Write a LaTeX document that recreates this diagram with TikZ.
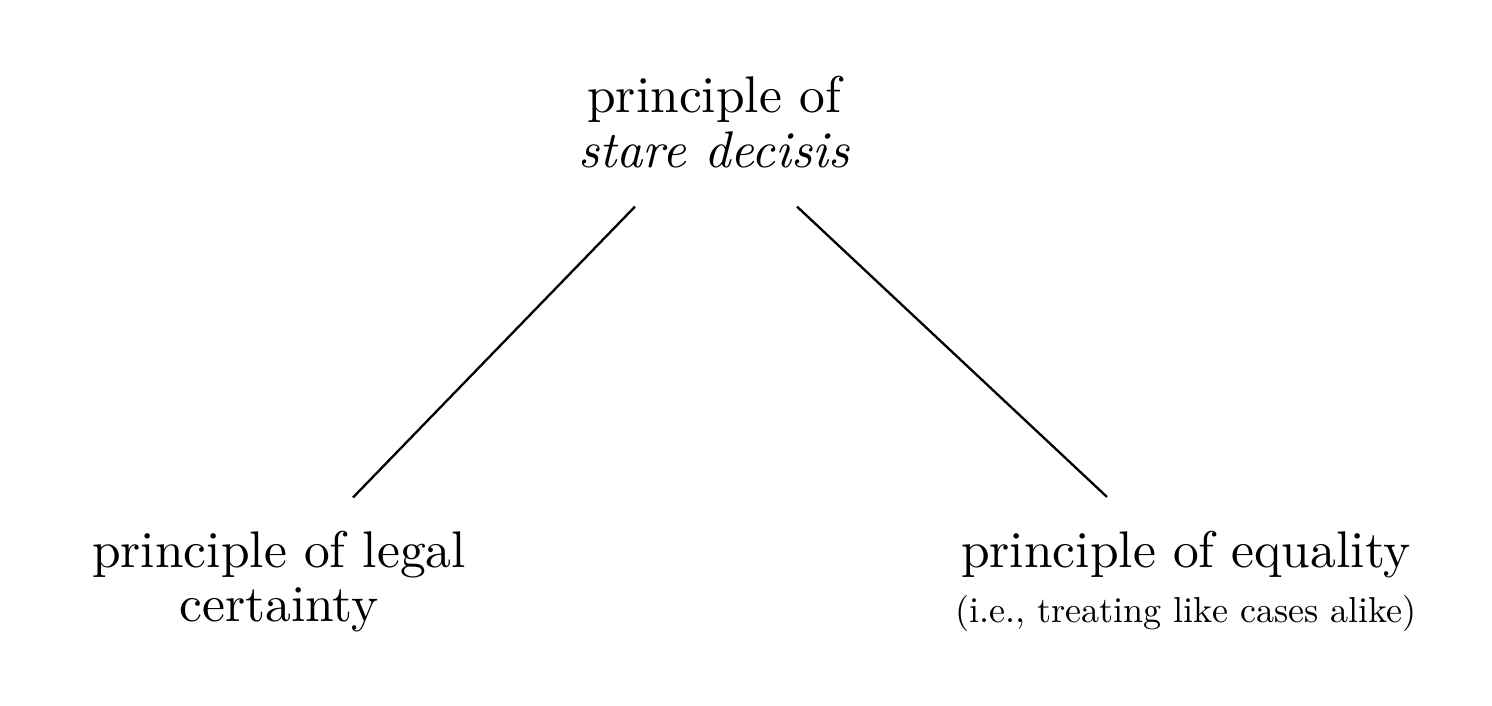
\documentclass[tikz,border=0pt]{standalone}
\begin{document}
\begin{tikzpicture}[x=0.194pt,y=-0.194pt,
  lbl/.style={inner sep=0pt,align=center,anchor=base,font=\normalsize},
  link/.style={draw=black,line width=0.45pt}]
\useasboundingbox (0,0) rectangle (1492,706);
\node[lbl] (top) at (714,168) {principle of\\[-1.2pt]\textit{stare decisis}};
\node[lbl] (left) at (279,622) {principle of legal\\[-1.5pt]certainty};
\node[lbl] (right) at (1186,623) {principle of equality\\[-1.2pt]\scalebox{0.7}{(i.e., treating like cases alike)}};
\draw[link] ([shift={(-79,37)}]top.south) -- ([shift={(74,-33)}]left.north);
\draw[link] ([shift={(83,37)}]top.south) -- ([shift={(-79,-33)}]right.north);
\end{tikzpicture}
\end{document}
